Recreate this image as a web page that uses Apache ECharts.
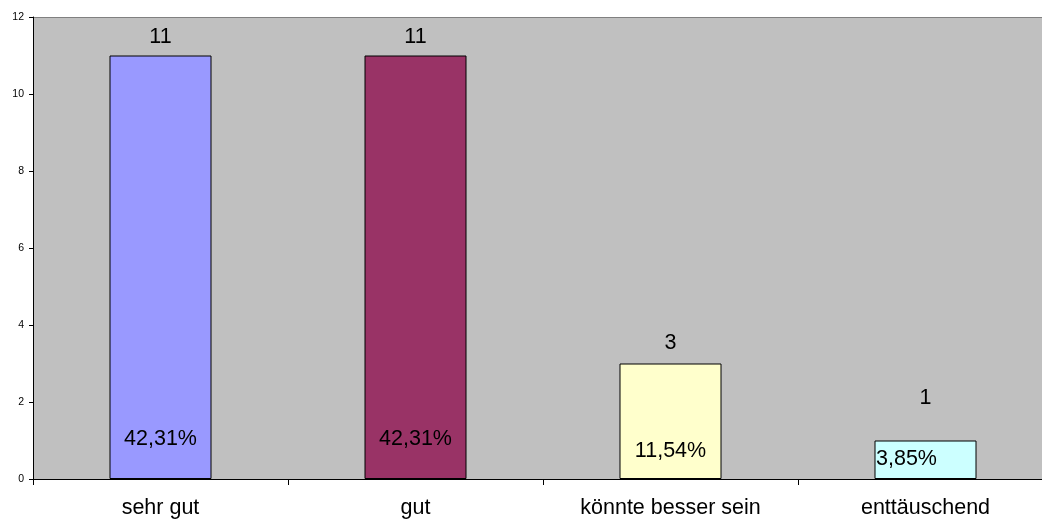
<!DOCTYPE html>
<html><head><meta charset="utf-8">
<script src="https://cdn.jsdelivr.net/npm/echarts@6/dist/echarts.min.js"></script>
<style>html,body{margin:0;padding:0;background:#fff;overflow:hidden;width:1042px;height:522px}#c{width:1053px;height:522px}</style>
</head><body><div id="c"></div>
<script>
const categories = ['sehr gut', 'gut', 'könnte besser sein', 'enttäuschend'];
const values = [11, 11, 3, 1];
const percentLabels = ['42,31%', '42,31%', '11,54%', '3,85%'];
const yTicks = [0, 2, 4, 6, 8, 10, 12];

const colors = ['#9999FF', '#993366', '#FFFFCC', '#CCFFFF'];
const topOffsets = [[0, -2], [0, -2], [0, -4], [0, -26]];
const pctOffsets = [[0, -29], [0, -29], [0, -17], [-19, -9]];

const chart = echarts.init(document.getElementById('c'));
const font = 'Liberation Sans, Arial, sans-serif';
const fs = 21.5;
chart.setOption({
  animation: false,
  grid: { left: 33, right: 0, top: 17, bottom: 43, show: true, backgroundColor: '#C0C0C0', borderWidth: 0 },
  xAxis: {
    type: 'category', data: categories,
    axisLine: { lineStyle: { color: '#000', width: 1 } },
    axisTick: { show: true, length: 6, interval: 0, alignWithLabel: false, lineStyle: { color: '#000' } },
    axisLabel: { color: '#000', fontFamily: font, fontSize: fs, margin: 18, interval: 0 }
  },
  yAxis: {
    type: 'value', min: yTicks[0], max: yTicks[yTicks.length - 1], interval: 2,
    axisLine: { show: true, lineStyle: { color: '#000' } },
    axisTick: { show: true, length: 4, lineStyle: { color: '#000' } },
    axisLabel: { color: '#000', fontFamily: font, fontSize: 10.5, margin: 9 },
    splitLine: { show: false }
  },
  graphic: [{ type: 'line', shape: { x1: 33, y1: 17.5, x2: 1053, y2: 17.5 }, style: { stroke: '#808080', lineWidth: 1 } }],
  series: [
    {
      type: 'bar', barWidth: '40%', barGap: '-100%',
      data: values.map((v, i) => ({
        value: v,
        itemStyle: { color: colors[i], borderColor: '#000', borderWidth: 1 },
        label: { show: true, position: 'top', offset: topOffsets[i], formatter: String(v) }
      })),
      label: { color: '#000', fontFamily: font, fontSize: fs }
    },
    {
      type: 'bar', barWidth: '40%', barGap: '-100%',
      data: values.map((v, i) => ({
        value: v,
        itemStyle: { color: 'transparent', borderWidth: 0 },
        label: { show: true, position: 'insideBottom', distance: 0, offset: pctOffsets[i], formatter: percentLabels[i] }
      })),
      label: { color: '#000', fontFamily: font, fontSize: fs },
      silent: true
    }
  ]
});
</script></body></html>
